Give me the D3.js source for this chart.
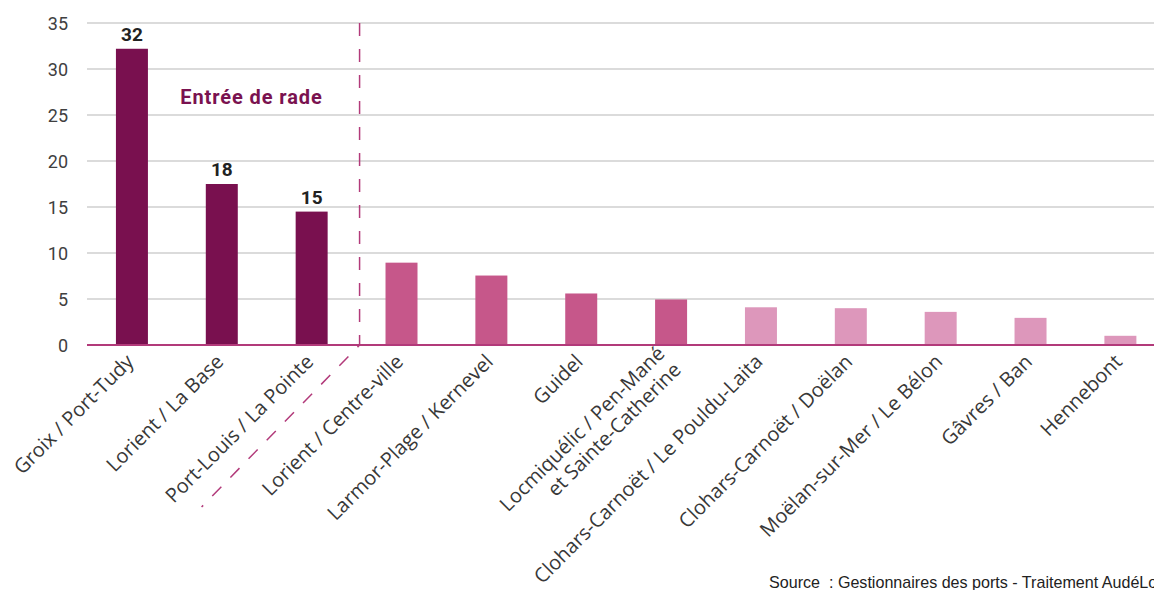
<!DOCTYPE html>
<html>
<head>
<meta charset="utf-8">
<script src="https://cdn.jsdelivr.net/npm/d3@7"></script>
<style>
  html, body { margin: 0; padding: 0; background: #fff; }
  svg { display: block; }
</style>
</head>
<body>
<svg id="chart" width="1154" height="590"></svg>
<script>
// ---- Data ----
const categories = [
  "Groix / Port-Tudy",
  "Lorient / La Base",
  "Port-Louis / La Pointe",
  "Lorient / Centre-ville",
  "Larmor-Plage / Kernevel",
  "Guidel",
  "Locmiquélic / Pen-Mané\net Sainte-Catherine",
  "Clohars-Carnoët / Le Pouldu-Laita",
  "Clohars-Carnoët / Doëlan",
  "Moëlan-sur-Mer / Le Bélon",
  "Gâvres / Ban",
  "Hennebont"
];
const values = [32.2, 17.5, 14.5, 8.95, 7.55, 5.6, 4.95, 4.1, 4.0, 3.6, 2.95, 1.0];
const valueLabels = ["32", "18", "15", "", "", "", "", "", "", "", "", ""];
const groups = ["entree", "entree", "entree", "mid", "mid", "mid", "mid", "light", "light", "light", "light", "light"];
const yTicks = [0, 5, 10, 15, 20, 25, 30, 35];
const groupLabel = "Entrée de rade";
const sourceText = "Source  : Gestionnaires des ports - Traitement AudéLor";

// ---- Styles ----
const colors = { entree: "#79104f", mid: "#c6578a", light: "#dd97bb" };
const accent = "#b23a7a";

const svg = d3.select("#chart");
const margin = { left: 87, top: 23, bottom: 345 };
const step = 89.86;

const x = d3.scaleBand()
  .domain(categories)
  .range([margin.left, margin.left + step * categories.length])
  .paddingInner(0.644)
  .paddingOuter(0.322);

const y = d3.scaleLinear().domain([0, 35]).range([margin.bottom, margin.top]);

// Gridlines
svg.append("g").selectAll("line")
  .data(yTicks.filter(d => d > 0))
  .join("line")
  .attr("x1", margin.left).attr("x2", 1154)
  .attr("y1", d => y(d)).attr("y2", d => y(d))
  .attr("stroke", "#cfcfcf").attr("stroke-width", 1.5);

// Y axis labels
const yAxis = d3.axisLeft(y).tickValues(yTicks).tickSize(0).tickPadding(0).tickFormat(d3.format("d"));
const yg = svg.append("g").attr("transform", `translate(68,0)`).call(yAxis);
yg.select(".domain").remove();
yg.selectAll("text")
  .attr("font-family", "Roboto, sans-serif")
  .attr("font-size", 18)
  .attr("fill", "#404040")
  .attr("dy", "0.36em");

// Bars
svg.append("g").selectAll("rect")
  .data(categories)
  .join("rect")
  .attr("x", d => x(d))
  .attr("width", x.bandwidth())
  .attr("y", (d, i) => y(values[i]))
  .attr("height", (d, i) => y(0) - y(values[i]))
  .attr("fill", (d, i) => colors[groups[i]]);

// Value labels
svg.append("g").selectAll("text")
  .data(categories)
  .join("text")
  .attr("x", d => x(d) + x.bandwidth() / 2)
  .attr("y", (d, i) => y(values[i]) - 8)
  .attr("text-anchor", "middle")
  .attr("font-family", "Roboto, sans-serif")
  .attr("font-weight", "bold")
  .attr("font-size", 19)
  .attr("fill", "#222")
  .text((d, i) => valueLabels[i]);

// Baseline axis
svg.append("line")
  .attr("x1", margin.left).attr("x2", 1154)
  .attr("y1", y(0)).attr("y2", y(0))
  .attr("stroke", accent).attr("stroke-width", 2);

// Divider (dashed) between entrée de rade and the rest
const divX = x(categories[3]) - (x.step() - x.bandwidth()) / 2 + 3;
svg.append("path")
  .attr("d", `M${divX},${y(35)} L${divX},${y(0)} L${divX - 158},${y(0) + 162}`)
  .attr("fill", "none")
  .attr("stroke", accent)
  .attr("stroke-width", 1.5)
  .attr("stroke-dasharray", "13,13");

// Group label
svg.append("text")
  .attr("x", x(categories[1]) + x.bandwidth() / 2 + 0.33 * x.step())
  .attr("y", y(26.2))
  .attr("text-anchor", "middle")
  .attr("font-family", "Roboto, sans-serif")
  .attr("font-weight", "bold")
  .attr("font-size", 20)
  .attr("letter-spacing", 0.9)
  .attr("fill", "#7a1250")
  .text(groupLabel);

// X labels (rotated)
const lineH = 23;
const xl = svg.append("g");
categories.forEach((c, i) => {
  const cx = x(c) + x.bandwidth() / 2 - 2;
  const g = xl.append("g").attr("transform", `translate(${cx},${y(0) + 13}) rotate(-45)`);
  const lines = c.split("\n");
  const t = g.append("text")
    .attr("font-family", "'Open Sans', sans-serif")
    .attr("font-size", 20)
    .attr("fill", "#383838")
    .attr("text-anchor", "end");
  lines.forEach((ln, k) => {
    t.append("tspan")
      .attr("x", 0)
      .attr("y", (k - (lines.length - 1) / 2) * lineH)
      .attr("dy", "0.35em")
      .text(ln);
  });
});

// Source
svg.append("text")
  .attr("x", 769).attr("y", 588)
  .attr("font-family", "'Liberation Sans', Arial, sans-serif")
  .attr("font-size", 16.1)
  .attr("fill", "#222")
  .style("white-space", "pre")
  .text(sourceText);
</script>
</body>
</html>
